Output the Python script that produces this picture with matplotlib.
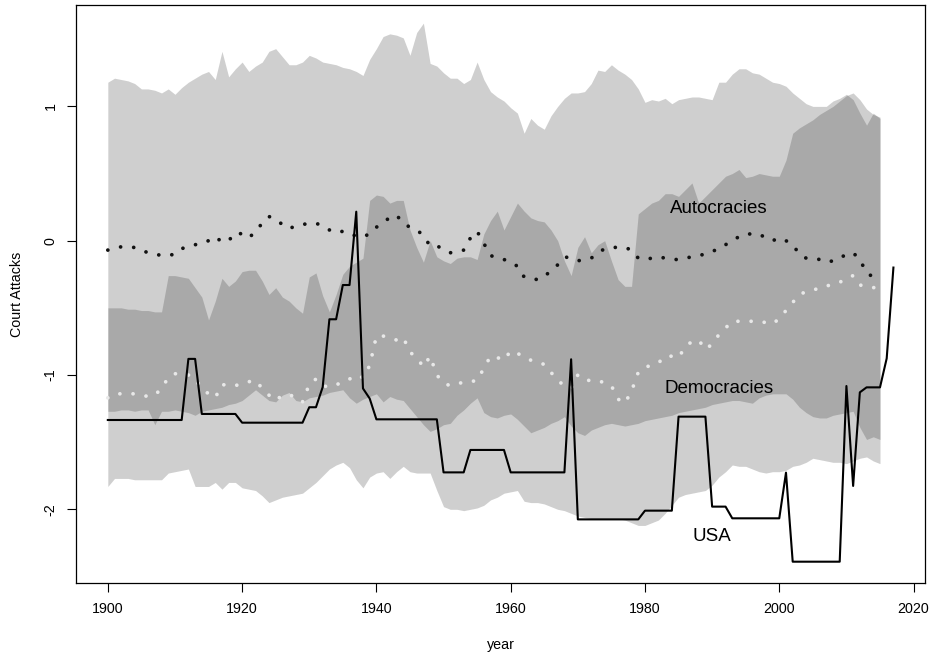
import numpy as np
import matplotlib
matplotlib.use("Agg")
import matplotlib.pyplot as plt

plt.rcParams['font.family'] = ['Liberation Sans', 'DejaVu Sans']
plt.rcParams['axes.unicode_minus'] = False

# years covered by the two regime bands and their means
years = list(range(1900, 2016))

# band for autocracies (upper / lower edge)
auto_hi = [1.18, 1.21, 1.20, 1.19, 1.17, 1.13, 1.13, 1.12, 1.10, 1.13,
           1.09, 1.14, 1.18, 1.21, 1.24, 1.26, 1.20, 1.41, 1.22, 1.28,
           1.33, 1.26, 1.30, 1.33, 1.41, 1.43, 1.37, 1.31, 1.31, 1.33,
           1.38, 1.36, 1.33, 1.32, 1.31, 1.29, 1.28, 1.26, 1.23, 1.35,
           1.43, 1.52, 1.54, 1.53, 1.51, 1.38, 1.55, 1.62, 1.32, 1.30,
           1.25, 1.21, 1.21, 1.17, 1.20, 1.33, 1.20, 1.11, 1.07, 1.04,
           0.99, 0.95, 0.80, 0.91, 0.86, 0.83, 0.93, 1.00, 1.06, 1.10,
           1.10, 1.11, 1.17, 1.27, 1.26, 1.31, 1.27, 1.24, 1.20, 1.13,
           1.03, 1.05, 1.04, 1.06, 1.02, 1.05, 1.06, 1.07, 1.07, 1.06,
           1.05, 1.18, 1.18, 1.24, 1.28, 1.28, 1.25, 1.24, 1.21, 1.18,
           1.17, 1.15, 1.10, 1.06, 1.02, 1.00, 1.00, 1.00, 1.04, 1.06,
           1.09, 1.05, 0.95, 0.86, 0.95, 0.91]
auto_lo = [-1.27, -1.27, -1.26, -1.26, -1.27, -1.26, -1.26, -1.37, -1.27, -1.27,
           -1.26, -1.27, -1.28, -1.30, -1.27, -1.26, -1.25, -1.24, -1.22, -1.21,
           -1.19, -1.15, -1.11, -1.15, -1.19, -1.20, -1.15, -1.13, -1.19, -1.20,
           -1.17, -1.16, -1.15, -1.13, -1.12, -1.11, -1.17, -1.21, -1.18, -1.16,
           -1.14, -1.20, -1.16, -1.18, -1.19, -1.25, -1.31, -1.37, -1.42, -1.40,
           -1.37, -1.36, -1.30, -1.26, -1.21, -1.17, -1.28, -1.31, -1.32, -1.30,
           -1.29, -1.33, -1.38, -1.43, -1.41, -1.39, -1.36, -1.34, -1.31, -1.38,
           -1.43, -1.45, -1.41, -1.39, -1.37, -1.36, -1.37, -1.38, -1.37, -1.36,
           -1.34, -1.33, -1.32, -1.31, -1.30, -1.28, -1.27, -1.26, -1.25, -1.24,
           -1.22, -1.21, -1.20, -1.19, -1.19, -1.20, -1.21, -1.17, -1.15, -1.14,
           -1.14, -1.14, -1.18, -1.24, -1.28, -1.31, -1.32, -1.32, -1.30, -1.29,
           -1.28, -1.27, -1.39, -1.48, -1.46, -1.48]

# band for democracies (upper / lower edge)
demo_hi = [-0.50, -0.50, -0.50, -0.51, -0.51, -0.52, -0.52, -0.53, -0.53, -0.26,
           -0.26, -0.27, -0.28, -0.35, -0.42, -0.59, -0.45, -0.28, -0.34, -0.30,
           -0.23, -0.22, -0.22, -0.30, -0.40, -0.35, -0.42, -0.45, -0.50, -0.54,
           -0.27, -0.24, -0.41, -0.53, -0.40, -0.25, -0.19, -0.16, -0.13, 0.30,
           0.34, 0.33, 0.28, 0.30, 0.30, 0.08, -0.05, -0.16, 0.00, -0.12,
           -0.15, -0.17, -0.13, -0.12, -0.12, -0.14, 0.05, 0.15, 0.22, 0.08,
           0.18, 0.28, 0.22, 0.17, 0.15, 0.14, 0.08, 0.00, -0.15, -0.26,
           -0.05, 0.03, -0.09, -0.03, 0.00, -0.15, -0.29, -0.34, -0.34, 0.20,
           0.24, 0.28, 0.30, 0.35, 0.35, 0.33, 0.38, 0.43, 0.28, 0.33,
           0.38, 0.43, 0.48, 0.50, 0.53, 0.47, 0.48, 0.50, 0.49, 0.48,
           0.48, 0.60, 0.80, 0.84, 0.87, 0.90, 0.94, 0.97, 1.00, 1.04,
           1.08, 1.10, 1.05, 0.98, 0.94, 0.92]
demo_lo = [-1.83, -1.77, -1.77, -1.77, -1.78, -1.78, -1.78, -1.78, -1.78, -1.73,
           -1.72, -1.71, -1.70, -1.83, -1.83, -1.83, -1.80, -1.85, -1.80, -1.80,
           -1.84, -1.85, -1.86, -1.90, -1.95, -1.93, -1.91, -1.90, -1.89, -1.88,
           -1.84, -1.80, -1.75, -1.70, -1.67, -1.65, -1.69, -1.78, -1.84, -1.76,
           -1.73, -1.72, -1.77, -1.72, -1.68, -1.72, -1.73, -1.73, -1.73, -1.86,
           -1.98, -2.00, -2.00, -2.01, -2.00, -1.99, -1.97, -1.93, -1.91, -1.88,
           -1.87, -1.86, -1.94, -1.95, -1.95, -1.96, -1.98, -2.00, -2.01, -2.03,
           -2.05, -2.06, -2.07, -2.07, -2.07, -2.07, -2.07, -2.08, -2.10, -2.12,
           -2.12, -2.10, -2.08, -2.03, -1.97, -1.91, -1.89, -1.88, -1.87, -1.86,
           -1.82, -1.76, -1.72, -1.67, -1.68, -1.68, -1.70, -1.72, -1.73, -1.72,
           -1.72, -1.71, -1.68, -1.67, -1.65, -1.62, -1.63, -1.64, -1.65, -1.65,
           -1.66, -1.64, -1.62, -1.61, -1.64, -1.66]

# yearly means
auto_mean = [-0.07, -0.06, -0.045, -0.05, -0.05, -0.07, -0.09, -0.10, -0.11, -0.11,
             -0.10, -0.06, -0.04, -0.03, -0.02, 0.00, 0.03, -0.01, 0.00, 0.06,
             0.05, 0.02, 0.07, 0.13, 0.18, 0.16, 0.12, 0.09, 0.11, 0.12,
             0.13, 0.13, 0.11, 0.08, 0.06, 0.07, 0.06, 0.03, 0.03, 0.05,
             0.10, 0.14, 0.17, 0.19, 0.13, 0.10, 0.08, 0.04, -0.04, -0.04,
             -0.06, -0.09, -0.08, -0.07, 0.02, 0.07, -0.02, -0.11, -0.13, -0.14,
             -0.16, -0.19, -0.27, -0.28, -0.29, -0.27, -0.22, -0.18, -0.12, -0.13,
             -0.15, -0.14, -0.13, -0.09, -0.06, -0.05, -0.05, -0.05, -0.07, -0.13,
             -0.14, -0.13, -0.12, -0.13, -0.14, -0.14, -0.13, -0.12, -0.11, -0.10,
             -0.08, -0.06, -0.03, 0.00, 0.03, 0.05, 0.05, 0.05, 0.02, 0.00,
             0.02, 0.00, -0.03, -0.10, -0.13, -0.13, -0.14, -0.16, -0.15, -0.12,
             -0.11, -0.09, -0.14, -0.24, -0.27, -0.30]
demo_mean = [-1.17, -1.14, -1.14, -1.14, -1.14, -1.15, -1.16, -1.15, -1.10, -1.02,
             -0.99, -1.00, -1.00, -1.03, -1.10, -1.14, -1.17, -1.07, -1.08, -1.08,
             -1.06, -1.05, -1.04, -1.10, -1.15, -1.19, -1.15, -1.15, -1.16, -1.20,
             -1.07, -1.03, -1.08, -1.09, -1.07, -1.06, -1.03, -1.00, -1.02, -0.93,
             -0.71, -0.71, -0.72, -0.74, -0.72, -0.83, -0.87, -0.94, -0.86, -1.00,
             -1.06, -1.08, -1.07, -1.05, -1.05, -1.04, -0.95, -0.86, -0.87, -0.89,
             -0.82, -0.84, -0.86, -0.89, -0.91, -0.92, -0.98, -1.04, -1.08, -1.10,
             -1.00, -1.04, -1.04, -1.04, -1.06, -1.08, -1.18, -1.21, -1.12, -0.98,
             -0.94, -0.93, -0.91, -0.86, -0.86, -0.87, -0.79, -0.75, -0.74, -0.81,
             -0.77, -0.70, -0.65, -0.60, -0.60, -0.60, -0.60, -0.60, -0.61, -0.62,
             -0.58, -0.52, -0.46, -0.40, -0.38, -0.37, -0.35, -0.34, -0.32, -0.31,
             -0.28, -0.26, -0.33, -0.34, -0.35, -0.34]

# USA series
usa_years = list(range(1900, 2018))
usa = ([-1.335] * 12 + [-0.88] * 2 + [-1.29] * 6 + [-1.355] * 10
       + [-1.24, -1.24, -1.09, -0.585, -0.585, -0.33, -0.33, 0.216, -1.10, -1.175]
       + [-1.33] * 10 + [-1.725] * 4 + [-1.558] * 6 + [-1.725] * 9 + [-0.883]
       + [-2.075] * 10 + [-2.01] * 5 + [-1.31] * 5 + [-1.98] * 3 + [-2.067] * 8
       + [-1.727] + [-2.39] * 8
       + [-1.082, -1.826, -1.129, -1.092, -1.092, -1.092, -0.876, -0.20])

fig = plt.figure(figsize=(9.3, 6.56), dpi=100)
ax = fig.add_axes([0.0820, 0.1108, 0.9126, 0.8816])

band_col = '#1e1e1e'
ax.fill_between(years, auto_lo, auto_hi, color=band_col, alpha=0.21, lw=0)
ax.fill_between(years, demo_lo, demo_hi, color=band_col, alpha=0.21, lw=0)

# dotted means (round dots)
ax.plot(years, auto_mean, color='#111111', lw=2.7, linestyle=(0, (0.01, 3.5)),
        dash_capstyle='round')
ax.plot(years, demo_mean, color='#e8e8e8', lw=2.7, linestyle=(0, (0.01, 3.5)),
        dash_capstyle='round')
ax.plot(usa_years, usa, color='black', lw=1.5)

ax.text(1991, 0.24, 'Autocracies', fontsize=13.5, ha='center', va='center')
ax.text(1991, -1.10, 'Democracies', fontsize=13.5, ha='center', va='center')
ax.text(1990, -2.20, 'USA', fontsize=13.5, ha='center', va='center')

ax.set_xlim(1895.3, 2021.7)
ax.set_ylim(-2.551, 1.755)
ax.set_xticks([1900, 1920, 1940, 1960, 1980, 2000, 2020])
ax.set_yticks([-2, -1, 0, 1])
ax.tick_params(direction='out', length=6.5, width=0.8, labelsize=10.3, pad=7)
for lab in ax.get_yticklabels():
    lab.set_rotation(90)
    lab.set_va('center')
for sp in ax.spines.values():
    sp.set_linewidth(0.9)

ax.set_xlabel('year', fontsize=10.3, labelpad=16)
ax.set_ylabel('Court Attacks', fontsize=10.3, labelpad=14)

fig.savefig('out.png', dpi=100)
